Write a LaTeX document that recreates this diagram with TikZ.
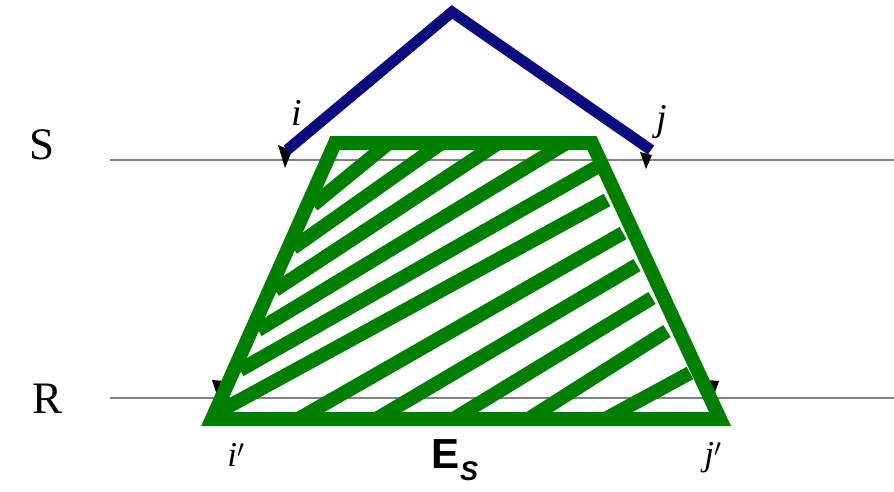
\documentclass[tikz,border=0pt]{standalone}
\usepackage{fontspec}
\setmainfont{Liberation Serif}
\newfontfamily\arialfont{Liberation Sans}
\definecolor{navyline}{RGB}{12,12,128}
\definecolor{hatchgreen}{RGB}{0,128,0}
\definecolor{guidegray}{RGB}{130,130,130}
\begin{document}
\begin{tikzpicture}[x=1pt,y=-1pt,
  guide/.style={draw=guidegray, line width=1.4pt},
  pathline/.style={draw=navyline, line width=11pt, line join=miter},
  border/.style={draw=hatchgreen, line width=14pt, line join=miter},
  hatch/.style={draw=hatchgreen, line width=14pt},
  tickmark/.style={fill=black},
  rowlbl/.style={font=\fontsize{45}{50}\selectfont, inner sep=0pt},
  ptlbl/.style={font=\fontsize{38}{42}\selectfont\itshape, inner sep=0pt},
  ptlblb/.style={font=\fontsize{35}{38}\selectfont\itshape, inner sep=0pt}]
\useasboundingbox (0,0) rectangle (894,491);

% row labels and guide lines
\node[rowlbl] (S) at (42,145) {S};
\node[rowlbl] (R) at (48,399) {R};
\coordinate (sA) at (110,160);
\coordinate (sB) at (894,160);
\coordinate (rA) at (110,398);
\coordinate (rB) at (894,398);
\draw[guide] (sA) -- (sB);
\draw[guide] (rA) -- (rB);

% tick marks
\fill[tickmark] (278,145) -- (292,151) -- (285,168) -- cycle;
\fill[tickmark] (640,152) -- (652,155) -- (646,169) -- cycle;
\fill[tickmark] (212,380) -- (224,381) -- (218,398) -- cycle;
\fill[tickmark] (707,380) -- (719,381) -- (713,398) -- cycle;

% blue path
\coordinate (pi) at (287,150);
\coordinate (top) at (452,12);
\coordinate (pj) at (651,150);
\draw[pathline] (pi) -- (top) -- (pj);

% hatching
\draw[hatch] (313,205) -- (390,142);
\draw[hatch] (293,248) -- (443,142);
\draw[hatch] (275,290) -- (500,142);
\draw[hatch] (258,330) -- (568,142);
\draw[hatch] (240,370) -- (597,167);
\draw[hatch] (222,410) -- (607,200);
\draw[hatch] (300,418) -- (623,233);
\draw[hatch] (378,418) -- (637,265);
\draw[hatch] (455,418) -- (652,298);
\draw[hatch] (530,418) -- (667,331);
\draw[hatch] (607,418) -- (690,373);

% trapezoid
\coordinate (tl) at (335,143);
\coordinate (tr) at (592,143);
\coordinate (br) at (720,419);
\coordinate (bl) at (212,419);
\draw[border] (tl) -- (tr) -- (br) -- (bl) -- cycle;

% point labels
\node[ptlbl] (li) at (297,113) {i};
\node[ptlbl] (lj) at (662,122) {j};
\node[ptlblb] (lip) at (236,455) {i$'$};
\node[ptlblb] (ljp) at (713,458) {j$'$};
\node[inner sep=0pt] (es) at (455,460) {\arialfont\bfseries\fontsize{42}{46}\selectfont E\raisebox{-0.28em}{\fontsize{27}{30}\selectfont\itshape S}};
\end{tikzpicture}
\end{document}
